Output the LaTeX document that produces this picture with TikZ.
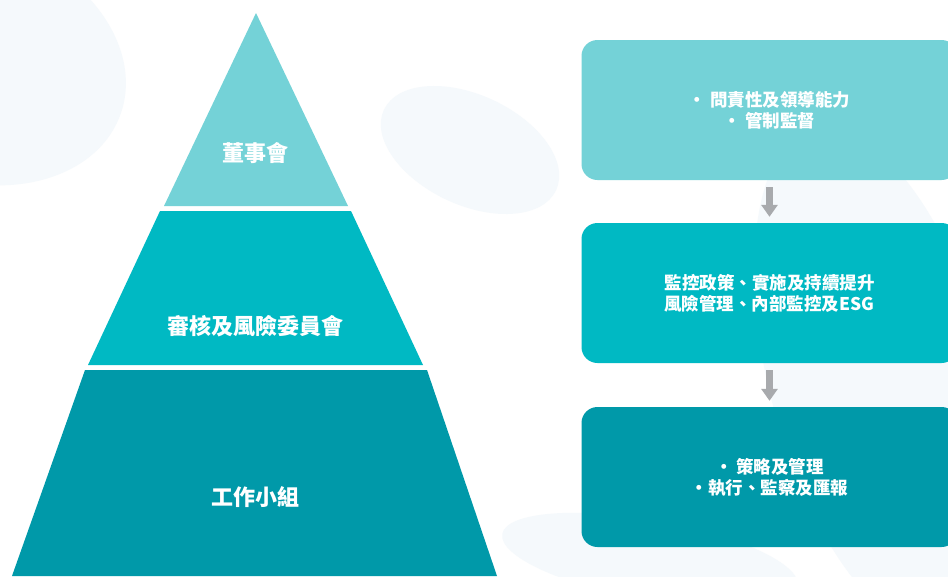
\documentclass[tikz,border=0pt]{standalone}
\usepackage{fontspec}
\newfontfamily\cjk{Noto Sans CJK TC}
\usetikzlibrary{arrows.meta,positioning}
\definecolor{tealA}{HTML}{74D2D7}
\definecolor{tealB}{HTML}{00B9C3}
\definecolor{tealC}{HTML}{0099A9}
\definecolor{arrowgray}{HTML}{A8AAAD}
\definecolor{blob}{HTML}{F5F9FC}

\begin{document}
\begin{tikzpicture}[x=1pt,y=-1pt,
   lvl/.style={text=white,font=\cjk\bfseries\fontsize{22}{25}\selectfont},
   box/.style={rounded corners=16pt,minimum width=376pt,minimum height=140pt,
     text=white,align=center,font=\cjk\bfseries\fontsize{17.5}{21}\selectfont},
   down/.style={arrowgray,line width=7pt,shorten <=7pt,shorten >=6pt,
     -{Triangle[width=16pt,length=12pt]}}]
   \useasboundingbox (0,0) rectangle (948,576);
   \fill[white] (0,0) rectangle (948,576);
   % faint background leaves
   \fill[blob] (-30,60) ellipse [x radius=160pt,y radius=120pt,rotate=-20];
   \fill[blob] (470,150) ellipse [x radius=95pt,y radius=55pt,rotate=-25];
   \fill[blob] (880,380) ellipse [x radius=110pt,y radius=260pt,rotate=15];
   \fill[blob] (650,560) ellipse [x radius=150pt,y radius=40pt,rotate=-10];

   % pyramid
   \fill[tealA] (256,13) -- (348,206) -- (164,206) -- cycle;
   \fill[tealB] (160,211) -- (351,211) -- (423,365) -- (88,365) -- cycle;
   \fill[tealC] (85,370) -- (427,370) -- (497,576) -- (12,576) -- cycle;
   \node[lvl] (board) at (255,153) {董事會};
   \node[lvl] (audit) at (255,326) {審核及風險委員會};
   \node[lvl] (work)  at (255,497) {工作小組};

   % responsibilities
   \node[box,fill=tealA] (duty1) at (769.5,110) {• 問責性及領導能力\\• 管制監督};
   \node[box,fill=tealB] (duty2) at (769.5,293) {監控政策、實施及持續提升\\風險管理、內部監控及ESG};
   \node[box,fill=tealC] (duty3) at (769.5,477) {•\ 策略及管理\\•執行、監察及匯報};
   \path[down]
   (duty1) edge (duty2)
   (duty2) edge (duty3);
\end{tikzpicture}
\end{document}
